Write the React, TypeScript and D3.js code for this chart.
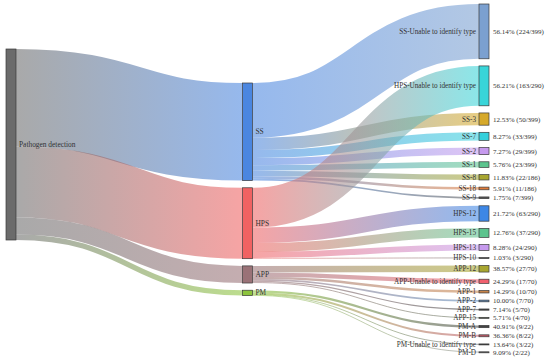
import React from "react";
import * as d3 from "d3";

const W = 550;
const H = 357;

const nodeIds = [
  "Pathogen detection",
  "SS", "HPS", "APP", "PM",
  "SS-Unable to identify type", "HPS-Unable to identify type",
  "SS-3", "SS-7", "SS-2", "SS-1", "SS-8", "SS-18", "SS-9",
  "HPS-12", "HPS-15", "HPS-13", "HPS-10",
  "APP-12", "APP-Unable to identify type", "APP-1", "APP-2", "APP-7", "APP-15",
  "PM-A", "PM-B", "PM-Unable to identify type", "PM-D",
];
const nodeColumns = [0, 1, 1, 1, 1, 2, 2, 2, 2, 2, 2, 2, 2, 2, 2, 2, 2, 2, 2, 2, 2, 2, 2, 2, 2, 2, 2, 2];
const nodeColors = [
  "#6b6b6b",
  "#4a86e0", "#f06262", "#9a7277", "#8cc43c",
  "#7ba0d0", "#38d5d9",
  "#d6a92a", "#33d0dc", "#c69aee", "#5cc48e", "#a8a630", "#e07b3a", "#555555",
  "#3d87e6", "#5cc48e", "#c69aee", "#555555",
  "#a8a630", "#f0606e", "#c8844a", "#5b87b8", "#444444", "#5a6a50",
  "#444444", "#c05a68", "#333333", "#666666",
];
const percentLabels = [
  "", "", "", "", "",
  "56.14% (224/399)", "56.21% (163/290)",
  "12.53% (50/399)", "8.27% (33/399)", "7.27% (29/399)", "5.76% (23/399)",
  "11.83% (22/186)", "5.91% (11/186)", "1.75% (7/399)",
  "21.72% (63/290)", "12.76% (37/290)", "8.28% (24/290)", "1.03% (3/290)",
  "38.57% (27/70)", "24.29% (17/70)", "14.29% (10/70)", "10.00% (7/70)", "7.14% (5/70)", "5.71% (4/70)",
  "40.91% (9/22)", "36.36% (8/22)", "13.64% (3/22)", "9.09% (2/22)",
];

const linkSources = [
  "Pathogen detection", "Pathogen detection", "Pathogen detection", "Pathogen detection",
  "SS", "SS", "SS", "SS", "SS", "SS", "SS", "SS",
  "HPS", "HPS", "HPS", "HPS", "HPS",
  "APP", "APP", "APP", "APP", "APP", "APP",
  "PM", "PM", "PM", "PM",
];
const linkTargets = [
  "SS", "HPS", "APP", "PM",
  "SS-Unable to identify type", "SS-3", "SS-7", "SS-2", "SS-1", "SS-8", "SS-18", "SS-9",
  "HPS-Unable to identify type", "HPS-12", "HPS-15", "HPS-13", "HPS-10",
  "APP-12", "APP-Unable to identify type", "APP-1", "APP-2", "APP-7", "APP-15",
  "PM-A", "PM-B", "PM-Unable to identify type", "PM-D",
];
const linkValues = [
  399, 290, 70, 22,
  224, 50, 33, 29, 23, 22, 11, 7,
  163, 63, 37, 24, 3,
  27, 17, 10, 7, 5, 4,
  9, 8, 3, 2,
];

// layout parameters
const columnX = d3.scaleLinear().domain([0, 2]).range([6, 479]);
const nodeWidth = 10;
const columnTop = [49, 83, 4];
const columnPad = [0, 7.2, 7.15];

type N = { id: string; col: number; color: string; pct: string; value: number; x0: number; x1: number; y0: number; y1: number };
type L = { s: N; t: N; value: number; sy: number; ty: number; w: number };

function layout() {
  const total = d3.sum(linkValues.filter((_, i) => linkSources[i] === "Pathogen detection"));
  const k = d3.scaleLinear().domain([0, total]).range([0, 191]);
  const nodes: N[] = nodeIds.map((id, i) => ({ id, col: nodeColumns[i], color: nodeColors[i], pct: percentLabels[i], value: 0, x0: 0, x1: 0, y0: 0, y1: 0 }));
  const byId = new Map(nodes.map((n) => [n.id, n]));
  nodes.forEach((n) => {
    const out = d3.sum(linkValues.filter((_, i) => linkSources[i] === n.id));
    const inn = d3.sum(linkValues.filter((_, i) => linkTargets[i] === n.id));
    n.value = Math.max(out, inn);
  });
  [0, 1, 2].forEach((c) => {
    let y = columnTop[c];
    nodes.filter((n) => n.col === c).forEach((n) => {
      n.x0 = columnX(c);
      n.x1 = n.x0 + nodeWidth;
      n.y0 = y;
      n.y1 = y + k(n.value);
      y = n.y1 + columnPad[c];
    });
  });
  const links: L[] = linkValues.map((v, i) => ({ s: byId.get(linkSources[i])!, t: byId.get(linkTargets[i])!, value: v, sy: 0, ty: 0, w: k(v) }));
  nodes.forEach((n) => {
    const outs = links.filter((l) => l.s === n).sort((a, b) => a.t.y0 - b.t.y0);
    let y = n.y0;
    outs.forEach((l) => { l.sy = y + l.w / 2; y += l.w; });
    const ins = links.filter((l) => l.t === n).sort((a, b) => a.s.y0 - b.s.y0);
    y = n.y0;
    ins.forEach((l) => { l.ty = y + l.w / 2; y += l.w; });
  });
  return { nodes, links };
}

export default function App() {
  const { nodes, links } = layout();
  const linkGen = d3.linkHorizontal<any, [number, number]>().source((d: any) => d[0]).target((d: any) => d[1]);
  const font = "'Liberation Serif', 'Times New Roman', serif";
  return (
    <div style={{ position: "absolute", left: 0, top: 0 }}>
      <svg width={W} height={H} style={{ display: "block", background: "#fff" }}>
        <defs>
          {links.map((l, i) => (
            <linearGradient key={i} id={`g${i}`} gradientUnits="userSpaceOnUse" x1={l.s.x1} x2={l.t.x0} y1={0} y2={0}>
              <stop offset="0%" stopColor={l.s.color} />
              <stop offset="100%" stopColor={l.t.color} />
            </linearGradient>
          ))}
        </defs>
        <g>
          {links.map((l, i) => (
            <path
              key={i}
              d={linkGen([[l.s.x1, l.sy], [l.t.x0, l.ty]] as any) || ""}
              fill="none"
              stroke={`url(#g${i})`}
              strokeOpacity={0.58}
              strokeWidth={Math.max(0.8, l.w)}
            />
          ))}
        </g>
        <g>
          {nodes.map((n, i) => (
            <rect key={i} x={n.x0} y={n.y0} width={n.x1 - n.x0} height={Math.max(1, n.y1 - n.y0)} fill={n.color} stroke="#3a3a3a" strokeWidth={0.7} />
          ))}
        </g>
        <g fontFamily={font} fill="#333">
          {nodes.map((n, i) => {
            const cy = (n.y0 + n.y1) / 2;
            if (n.col < 2) {
              return (
                <text key={i} x={n.x1 + 3} y={cy} dy="0.35em" fontSize={7.4}>{n.id}</text>
              );
            }
            return (
              <g key={i}>
                <text x={n.x0 - 3} y={cy} dy="0.35em" textAnchor="end" fontSize={7.2}>{n.id}</text>
                <text x={n.x1 + 4} y={cy} dy="0.35em" fontSize={7}>{n.pct}</text>
              </g>
            );
          })}
        </g>
      </svg>
    </div>
  );
}
